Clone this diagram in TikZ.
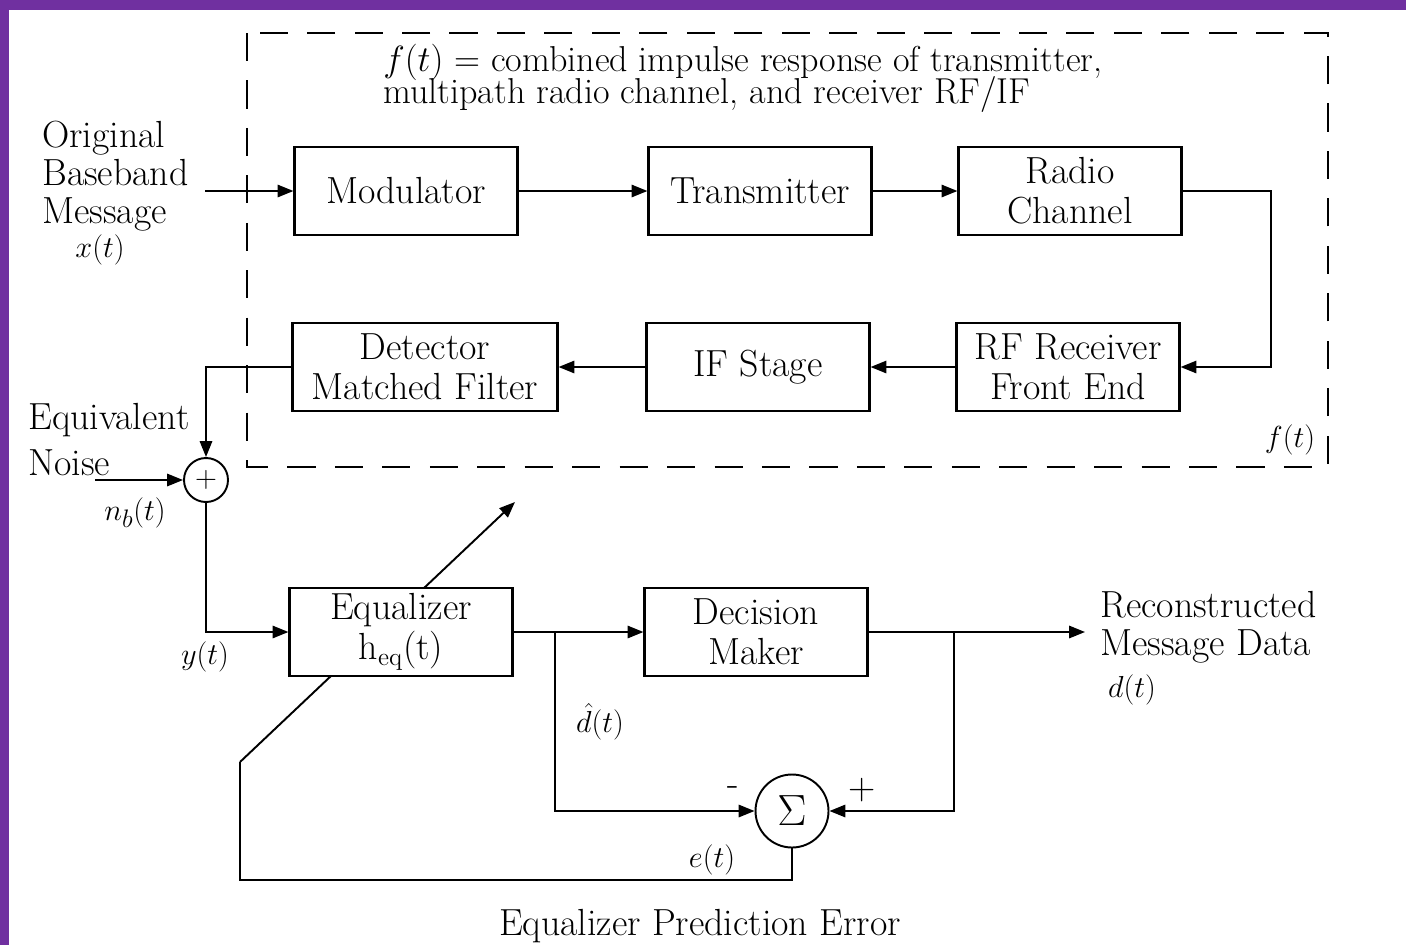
\documentclass[tikz,border=0pt]{standalone}
\usetikzlibrary{arrows.meta}
\definecolor{barpurple}{RGB}{112,48,160}
\newcommand{\tighttitle}{\fontsize{20.5}{18.3}\selectfont\lineskiplimit=-30pt\relax}
\begin{document}
\begin{tikzpicture}[x=0.2mm,y=-0.2mm,
  blk/.style={draw,line width=1.2pt,fill=white,minimum width=44.6mm,minimum height=17.6mm,align=center,inner sep=0pt,font=\fontsize{21.5}{22.7}\selectfont},
  lbl/.style={font=\fontsize{21.5}{21.5}\selectfont,align=left,inner sep=0pt},
  ttl/.style={font=\tighttitle,align=left,anchor=north west,inner sep=0pt},
  mlbl/.style={font=\fontsize{19}{21}\selectfont,inner sep=0pt},
  wire/.style={line width=1.1pt},
  arr/.style={wire,-{Triangle[length=9pt,width=7pt]}},
  frame/.style={line width=1.2pt,dash pattern=on 16pt off 11pt},
  sumcirc/.style={circle,draw,line width=1.1pt,fill=white,inner sep=0pt}
]
\useasboundingbox (0,0) rectangle (1406,945);
\fill[white] (0,0) rectangle (1406,945);
\fill[barpurple] (0,0) rectangle (1406,10);
\fill[barpurple] (0,0) rectangle (9,945);

% dashed frame
\draw[frame] (247,33) rectangle (1328,467);
\node[ttl] (title) at (383,44) {$f(t)$ = combined impulse response of transmitter,\\multipath radio channel, and receiver RF/IF};
\node[mlbl] (fl) at (1290,440) {$f(t)$};

% coordinates
\coordinate (in) at (205,191);
\coordinate (c1) at (1271,191);
\coordinate (nz) at (95,480);
\coordinate (b1) at (555,632);
\coordinate (b2) at (954,632);
\coordinate (out) at (1085,632);
\coordinate (f1) at (240,762);
\coordinate (f2) at (240,880);
\coordinate (tip) at (515,502);

% adaptation arrow (behind equalizer)
\draw[arr] (f1) -- (tip);

% blocks
\node[blk] (mod) at (406,191) {Modulator};
\node[blk] (tx) at (760,191) {Transmitter};
\node[blk] (rc) at (1070,191) {Radio\\Channel};
\node[blk] (rf) at (1068,367) {RF Receiver\\Front End};
\node[blk] (if) at (758,367) {IF Stage};
\node[blk,minimum width=53mm] (det) at (425,367) {Detector\\Matched Filter};
\node[blk] (eq) at (401,632) {Equalizer\\h$_{\mathrm{eq}}$(t)};
\node[blk] (dm) at (756,632) {Decision\\Maker};
\node[sumcirc,minimum size=8.8mm,font=\fontsize{16}{16}\selectfont] (add) at (206,480) {$+$};
\node[sumcirc,minimum size=14.6mm,font=\fontsize{24}{24}\selectfont] (sum) at (792,811) {$\Sigma$};

% connectors
\draw[arr] (in) -- (mod.west);
\draw[arr] (mod) -- (tx);
\draw[arr] (tx) -- (rc);
\draw[arr] (rc.east) -- (c1) |- (rf.east);
\draw[arr] (rf) -- (if);
\draw[arr] (if) -- (det);
\draw[arr] (det.west) -| (add.north);
\draw[arr] (nz) -- (add.west);
\draw[arr] (add.south) |- (eq.west);
\draw[arr] (eq.east) -- (dm.west);
\draw[arr] (b1) |- (sum.west);
\draw[arr] (dm.east) -- (out);
\draw[arr] (b2) |- (sum.east);
\draw[wire] (sum.south) |- (f2) -- (f1);

% labels
\node[lbl,anchor=west] (orig) at (42,176) {Original\\Baseband\\Message};
\node[mlbl] (xt) at (100,250) {$x(t)$};
\node[lbl,anchor=west] (eqv) at (28,420) {Equivalent};
\node[lbl,anchor=west] (noise) at (28,463) {Noise};
\node[mlbl] (nb) at (135,513) {$n_b(t)$};
\node[mlbl] (yt) at (205,657) {$y(t)$};
\node[mlbl] (dh) at (600,722) {$\hat{d}(t)$};
\node[lbl] (minus) at (733,791) {-};
\node[lbl] (plus) at (862,790) {+};
\node[mlbl] (et) at (712,860) {$e(t)$};
\node[lbl] (epe) at (700,926) {Equalizer Prediction Error};
\node[lbl,anchor=west] (rec) at (1100,627) {Reconstructed\\Message Data};
\node[mlbl] (dt) at (1132,690) {$d(t)$};
\end{tikzpicture}
\end{document}
